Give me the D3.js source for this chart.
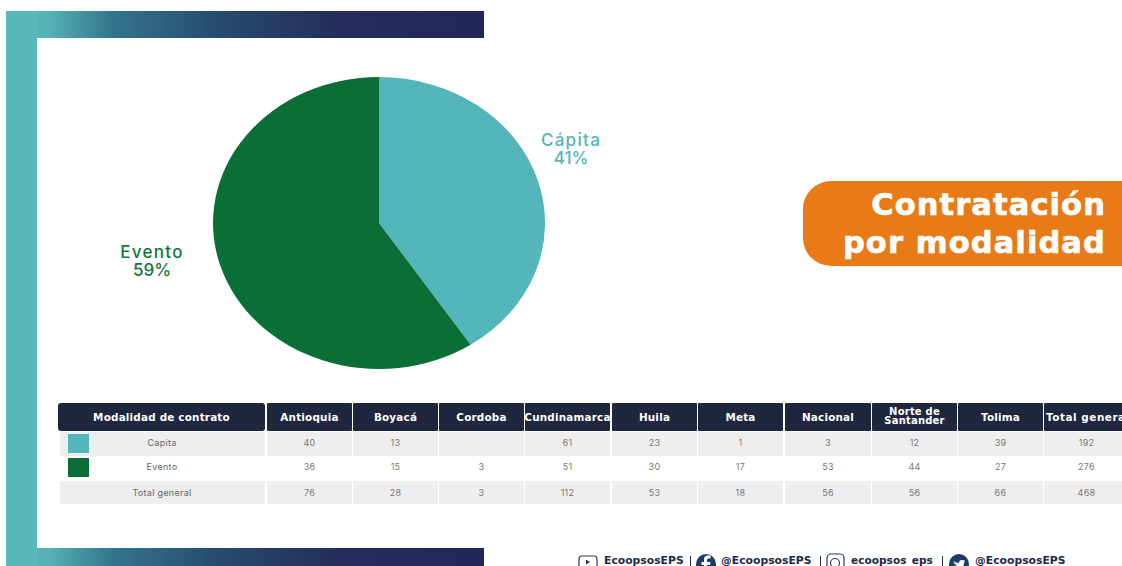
<!DOCTYPE html>
<html><head><meta charset="utf-8">
<script src="https://cdn.jsdelivr.net/npm/d3@7/dist/d3.min.js"></script>
<style>html,body{margin:0;padding:0;background:#fff;overflow:hidden}svg{display:block}</style>
</head><body><svg id="c" width="1122" height="566"></svg>
<script>
const sliceNames = ["Cápita","Evento"];
const sliceLabels = ["41%","59%"];
const sliceValues = [40.7,59.3];
const sliceColors = ["#54b6ba","#0c6e37"];
const columns = ["Modalidad de contrato","Antioquia","Boyacá","Cordoba","Cundinamarca","Huila","Meta","Nacional","Norte de\nSantander","Tolima","Total general"];
const rowNames = ["Capita","Evento","Total general"];
const capitaRow = [40,13,null,61,23,1,3,12,39,192];
const eventoRow = [36,15,3,51,30,17,53,44,27,276];
const totalRow = [76,28,3,112,53,18,56,56,66,468];
const footer = ["EcoopsosEPS","@EcoopsosEPS","ecoopsos_eps","@EcoopsosEPS"];
const titleLines = ["Contratación","por modalidad"];

const F = "Inter, 'Open Sans', sans-serif";
const HF = "'DejaVu Sans', sans-serif";
const svg = d3.select("#c");
const defs = svg.append("defs");
const g = defs.append("linearGradient").attr("id","band");
[[0,"#58b9ba"],[.09,"#55b2b5"],[.22,"#33758d"],[.45,"#274a6e"],[.7,"#232c5a"],[1,"#212858"]]
  .forEach(([o,c])=>g.append("stop").attr("offset",o).attr("stop-color",c));

// frame
svg.append("rect").attr("x",6).attr("y",11).attr("width",478).attr("height",27).attr("fill","url(#band)");
svg.append("rect").attr("x",6).attr("y",548).attr("width",478).attr("height",18).attr("fill","url(#band)");
svg.append("rect").attr("x",6).attr("y",11).attr("width",31).attr("height",555).attr("fill","#59b8ba");

// pie (elliptical, as in the reference)
const cx=379, cy=223, rx=166, ry=146;
const pie = d3.pie().sort(null)(sliceValues);
const arc = d3.arc().innerRadius(0).outerRadius(1);
const pg = svg.append("g").attr("transform",`translate(${cx},${cy}) scale(${rx},${ry})`);
pg.selectAll("path").data(pie).join("path").attr("d",arc).attr("fill",(d,i)=>sliceColors[i]);

const lab = [[571,146],[152,258]];
sliceNames.forEach((n,i)=>{
  const t = svg.append("text").attr("text-anchor","middle").attr("fill",i?"#12773f":"#54b6ba")
    .attr("font-family",F).attr("font-size",17).attr("font-weight",500);
  t.append("tspan").attr("x",lab[i][0]).attr("y",lab[i][1]).text(n).attr("letter-spacing",1.3);
  t.append("tspan").attr("x",lab[i][0]).attr("y",lab[i][1]+18).text(sliceLabels[i]);
});

// title box
svg.append("path").attr("d","M1122,181H831a28,28 0 0 0 -28,28V238a28,28 0 0 0 28,28H1122Z").attr("fill","#e87a18");
titleLines.forEach((t,i)=>svg.append("text").attr("x",1106).attr("y",i?253:215).attr("text-anchor","end")
  .attr("fill","#fff").attr("stroke","#fff").attr("stroke-width",.7).attr("font-family",HF).attr("font-weight",700)
  .attr("font-size",30.5).attr("letter-spacing",1.1).text(t));

// table
const xs=[58,267,353,439,525,612,698,785,872,958,1044];
const xe=[265,352,438,524,610,697,783,871,957,1043,1130];
const rowsY=[[432,456],[457,480],[481,504]];
const rowText=[445.5,469.5,495.5];
const rows=[capitaRow,eventoRow,totalRow];
const T = svg.append("g");
columns.forEach((c,i)=>{
  T.append("rect").attr("x",xs[i]).attr("y",403).attr("width",xe[i]-xs[i]).attr("height",28).attr("rx",i?1:3).attr("fill","#1e273d");
  const mx=(xs[i]+xe[i])/2, lines=c.split("\n");
  lines.forEach((l,j)=>T.append("text").attr("x",i==10?1046:mx).attr("y",lines.length>1?(414.5+j*9):421)
    .attr("text-anchor",i==10?"start":"middle").attr("fill","#fff").attr("font-family",HF).attr("font-weight",700)
    .attr("font-size",lines.length>1?10:10.4).attr("letter-spacing",i==10?.55:.2).text(l));
});
rows.forEach((r,ri)=>{
  const [y0,y1]=rowsY[ri], ty=rowText[ri], shade=ri!=1;
  xs.forEach((x,i)=>{ if(shade) T.append("rect").attr("x",i?x:60).attr("y",y0).attr("width",xe[i]-(i?x:60)).attr("height",y1-y0).attr("fill","#eeeeee"); });
  T.append("text").attr("x",162).attr("y",ty).attr("text-anchor","middle").attr("fill","#666").attr("font-family",F).attr("font-size",9).attr("letter-spacing",.3).text(rowNames[ri]);
  r.forEach((v,i)=>{ if(v!==null) T.append("text").attr("x",(xs[i+1]+Math.min(xe[i+1],1129))/2).attr("y",ty).attr("text-anchor","middle").attr("fill","#777").attr("font-family",F).attr("font-size",9).attr("letter-spacing",.3).text(v); });
});
[0,1].forEach(i=>T.append("rect").attr("x",68).attr("y",i?458:434).attr("width",21).attr("height",19).attr("fill",sliceColors[i]));

// footer
const fg = svg.append("g");
const fx=[604,721,851,975];
footer.forEach((t,i)=>fg.append("text").attr("x",fx[i]).attr("y",563.5).attr("fill","#1e2a4a")
  .attr("font-family",HF).attr("font-weight",700).attr("font-size",i==2?10.6:10.8).text(t));
[[690],[820],[942]].forEach(([x])=>fg.append("rect").attr("x",x).attr("y",556).attr("width",1).attr("height",10).attr("fill","#1e2a4a"));
fg.append("rect").attr("x",579).attr("y",556).attr("width",18).attr("height",14).attr("rx",3).attr("fill","none").attr("stroke","#2a3a5e").attr("stroke-width",1.2);
fg.append("path").attr("d","M586,559.5l4,2.5l-4,2.5Z").attr("fill","#2a3a5e");
fg.append("circle").attr("cx",706).attr("cy",564).attr("r",10).attr("fill","#1d3c6b");
fg.append("path").attr("d","M707,574V565h3l.5,-3h-3.5v-2q0,-1.5 1.5,-1.5h2v-3h-2.5q-4,0 -4,4v2.5h-2.5v3h2.5v9Z").attr("fill","#fff");
fg.append("rect").attr("x",827).attr("y",554).attr("width",17).attr("height",17).attr("rx",4).attr("fill","none").attr("stroke","#2a3a5e").attr("stroke-width",1.2);
fg.append("circle").attr("cx",835).attr("cy",563).attr("r",4.5).attr("fill","none").attr("stroke","#2a3a5e").attr("stroke-width",1.2);
fg.append("circle").attr("cx",959).attr("cy",564).attr("r",10).attr("fill","#1d3c6b");
fg.append("path").attr("d","M953,561q3,2 6,2q0,-3 3,-3q2,0 3,1l-1,2q0,5 -6,5q-3,0 -5,-2q3,0 4,-1q-3,-1 -4,-4Z").attr("fill","#fff");
</script></body></html>
